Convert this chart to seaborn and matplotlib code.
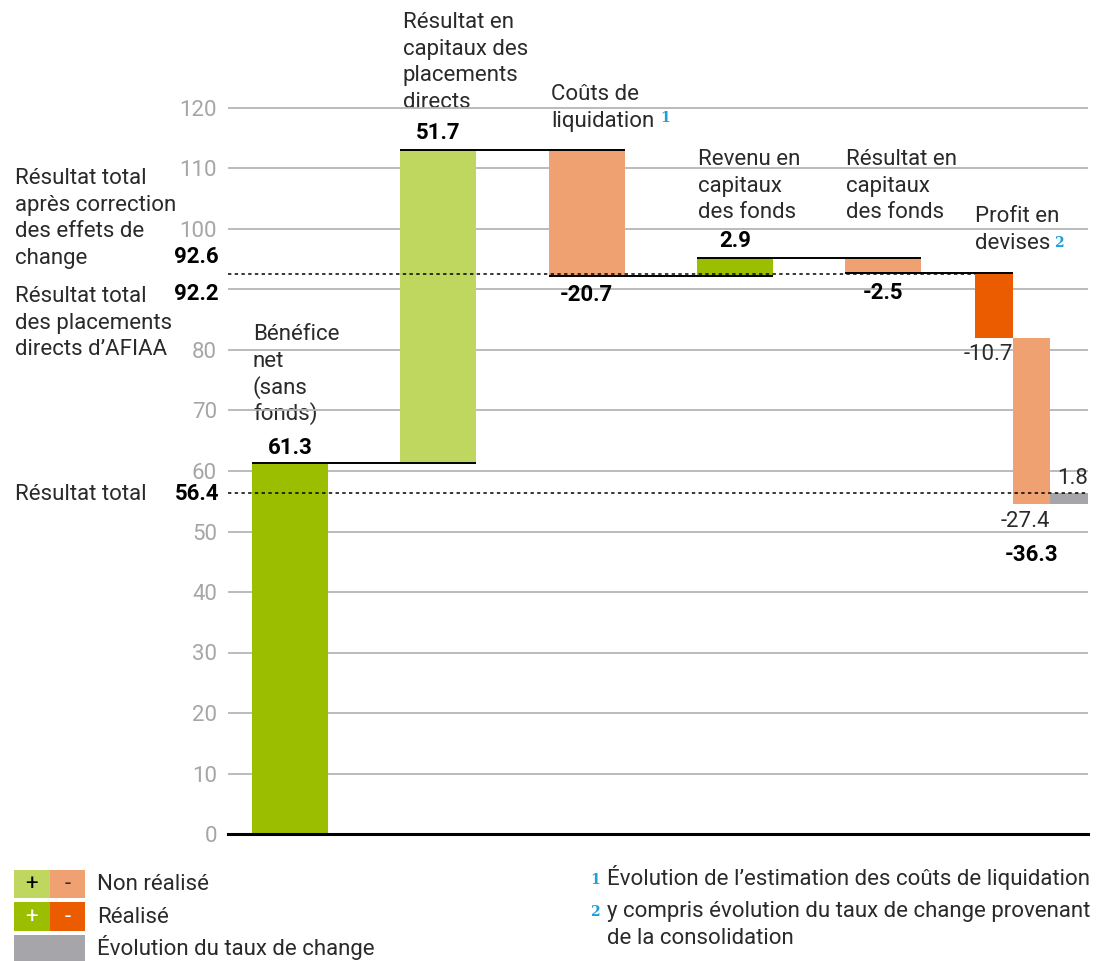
import numpy as np
import pandas as pd
import matplotlib
matplotlib.use("Agg")
import matplotlib.pyplot as plt
import seaborn as sns
from matplotlib.patches import Rectangle

# ---------------- data ----------------
categories = ["Bénéfice\nnet\n(sans\nfonds)",
              "Résultat en\ncapitaux des\nplacements\ndirects",
              "Coûts de\nliquidation",
              "Revenu en\ncapitaux\ndes fonds",
              "Résultat en\ncapitaux\ndes fonds",
              "Profit en\ndevises"]
main_changes = [61.3, 51.7, -20.7, 2.9, -2.5]
main_kind = ["realized", "unrealized", "unrealized", "realized", "unrealized"]
fx_changes = [-10.7, -27.4, 1.8]
fx_kind = ["realized", "unrealized", "fx"]
fx_total = -36.3
total_after_fx = 92.6
total_direct = 92.2
total_result = 56.4
yticks = list(range(0, 130, 10))
ytick_labels = ["0", "10", "20", "30", "40", "50", "60", "70", "80", "", "100", "110", "120"]
legend_labels = ["Non réalisé", "Réalisé", "Évolution du taux de change"]
footnotes = ["Évolution de l’estimation des coûts de liquidation",
             "y compris évolution du taux de change provenant\nde la consolidation"]
left_labels = ["Résultat total\naprès correction\ndes effets de\nchange",
               "Résultat total\ndes placements\ndirects d’AFIAA",
               "Résultat total"]

# ---------------- style ----------------
sns.set_theme(style="white")
plt.rcParams['font.family'] = ['Roboto', 'DejaVu Sans']
FS = 16
LW_TXT = "normal"
LH = 26.7
DARK_G = "#9BBF00"
LIGHT_G = "#BFD65F"
LIGHT_O = "#F0A172"
DARK_O = "#EB5C00"
GRAY = "#A6A5AA"
CYAN = "#1E9FD6"
TXT = "#2a2a2a"
colors = {("realized", 1): DARK_G, ("unrealized", 1): LIGHT_G,
          ("realized", -1): DARK_O, ("unrealized", -1): LIGHT_O,
          ("fx", 1): GRAY, ("fx", -1): GRAY}

W, H = 1102, 961
fig = plt.figure(figsize=(W / 100, H / 100), dpi=100)
ov = fig.add_axes([0, 0, 1, 1])
ov.set_xlim(0, W)
ov.set_ylim(H, 0)
ov.axis("off")

px_per_unit = 6.05
ax = fig.add_axes([228 / W, (H - 834) / H, (1088 - 228) / W, 834 / H])
ax.set_facecolor("none")

main_w = 0.512
sub_w = 0.254

# build bar table
rows = []
level = 0.0
ends = []
for i, (ch, kind) in enumerate(zip(main_changes, main_kind)):
    sign = 1 if ch > 0 else -1
    rows.append(dict(pos=float(i), bottom=min(level, level + ch), height=abs(ch),
                     width=main_w, color=colors[(kind, sign)]))
    level += ch
    ends.append(level)
group_pos = float(len(main_changes))
fx_levels = []
for j, (ch, kind) in enumerate(zip(fx_changes, fx_kind)):
    sign = 1 if ch > 0 else -1
    pos = group_pos + (j - 1) * sub_w
    rows.append(dict(pos=pos, bottom=min(level, level + ch), height=abs(ch),
                     width=sub_w, color=colors[(kind, sign)]))
    level += ch
    fx_levels.append(level)
bars = pd.DataFrame(rows)

for _, r in bars.iterrows():
    sns.barplot(x=[r["pos"]], y=[r["height"]], bottom=[r["bottom"]], width=r["width"],
                native_scale=True, orient="x", color=r["color"], saturation=1,
                errorbar=None, linewidth=0, ax=ax, zorder=2)

ax.set_xlim(-0.4175, group_pos + 1.5 * sub_w)
ax.set_ylim(0, 834 / px_per_unit)
ax.set_yticks(yticks)
ax.set_yticklabels(ytick_labels)
ax.set_xticks([])
ax.set_xlabel("")
ax.set_ylabel("")
ax.grid(axis="y", color="#B5B5B5", lw=1.3)
ax.grid(axis="x", visible=False)
ax.set_axisbelow(True)
for s in ["top", "right", "left"]:
    ax.spines[s].set_visible(False)
ax.spines["bottom"].set_color("black")
ax.spines["bottom"].set_linewidth(2.2)
ax.spines["bottom"].set_zorder(5)
ax.tick_params(axis="y", length=0, pad=8, labelsize=FS, labelcolor="#A6A6A6")

# connector lines
for i in range(len(main_changes)):
    x0 = i - main_w / 2
    if i < len(main_changes) - 1:
        x1 = i + 1 + main_w / 2
    else:
        x1 = group_pos - sub_w / 2
    ax.hlines(ends[i], x0, x1, color="black", lw=1.4, zorder=3)

# dotted reference lines
ax.hlines(total_after_fx, ax.get_xlim()[0], group_pos - 1.5 * sub_w, color="black",
          lw=1.1, linestyles=(0, (2.2, 2.2)), zorder=4)
ax.hlines(total_result, ax.get_xlim()[0], ax.get_xlim()[1], color="black",
          lw=1.1, linestyles=(0, (2.2, 2.2)), zorder=4)

# value labels
def lab(x, y, s, dy, ha="center", bold=True):
    ax.annotate(s, xy=(x, y), xytext=(0, dy), textcoords="offset pixels",
                ha=ha, va="center", fontsize=FS, color="black" if bold else TXT,
                fontweight="bold" if bold else LW_TXT, annotation_clip=False)

offsets = [15, 17, -19, 17, -20]
for i, ch in enumerate(main_changes):
    lab(i, ends[i], f"{ch:.1f}", offsets[i])
lab(group_pos - sub_w / 2, fx_levels[0], f"{fx_changes[0]:.1f}", -17, ha="right", bold=False)
lab(group_pos + sub_w / 2, fx_levels[1], f"{fx_changes[1]:.1f}", -18, ha="right", bold=False)
lab(group_pos + 1.5 * sub_w, fx_levels[2], f"{fx_changes[2]:.1f}", 14, ha="right", bold=False)
lab(group_pos, fx_levels[1], f"{fx_total:.1f}", -51)


def lines(x, y, s, **kw):
    """draw multi-line text line by line, y = first baseline (pixels)"""
    kw.setdefault("fontsize", FS)
    kw.setdefault("color", TXT)
    kw.setdefault("fontweight", LW_TXT)
    for k, line in enumerate(s.split("\n")):
        ov.text(x, y + k * LH, line, ha="left", va="baseline", **kw)


# category labels (pixel overlay)
cat_pos = [(253, 340), (403, 28), (551, 100), (698, 165), (846, 165), (975, 222)]
for (x, y), c in zip(cat_pos, categories):
    lines(x, y, c)
ov.text(660, 122, "1", fontsize=10, color=CYAN, fontweight="bold", family="DejaVu Serif",
        ha="left", va="baseline")
ov.text(1054, 247, "2", fontsize=10, color=CYAN, fontweight="bold", family="DejaVu Serif",
        ha="left", va="baseline")

# left labels
lines(15, 184, left_labels[0])
ov.text(219, 263, f"{total_after_fx:.1f}", ha="right", va="baseline", fontsize=FS,
        fontweight="bold", color="black")
lines(15, 302, left_labels[1])
ov.text(219, 300, f"{total_direct:.1f}", ha="right", va="baseline", fontsize=FS,
        fontweight="bold", color="black")
lines(15, 500, left_labels[2])
ov.text(219, 500, f"{total_result:.1f}", ha="right", va="baseline", fontsize=FS,
        fontweight="bold", color="black")

# legend
boxes = [(14, 870, 36, 28, LIGHT_G, "+", "black"), (50, 870, 35, 28, LIGHT_O, "-", "#333333"),
         (14, 902, 36, 29, DARK_G, "+", "white"), (50, 902, 35, 29, DARK_O, "-", "white"),
         (14, 935, 71, 28, GRAY, "", "white")]
for x, y, w, h, c, s, tc in boxes:
    ov.add_patch(Rectangle((x, y), w, h, facecolor=c, edgecolor="none"))
    if s:
        ov.text(x + w / 2, y + h / 2 + 1, s, ha="center", va="center", fontsize=FS, color=tc)
for y, s in zip([890, 923, 955], legend_labels):
    lines(97, y, s)

# footnotes
for y, n, s in zip([885, 917], ["1", "2"], footnotes):
    ov.text(595, y - 1, n, ha="center", va="baseline", fontsize=10, color=CYAN,
            fontweight="bold", family="DejaVu Serif")
    lines(607, y, s)

fig.savefig("out.png", dpi=100)
